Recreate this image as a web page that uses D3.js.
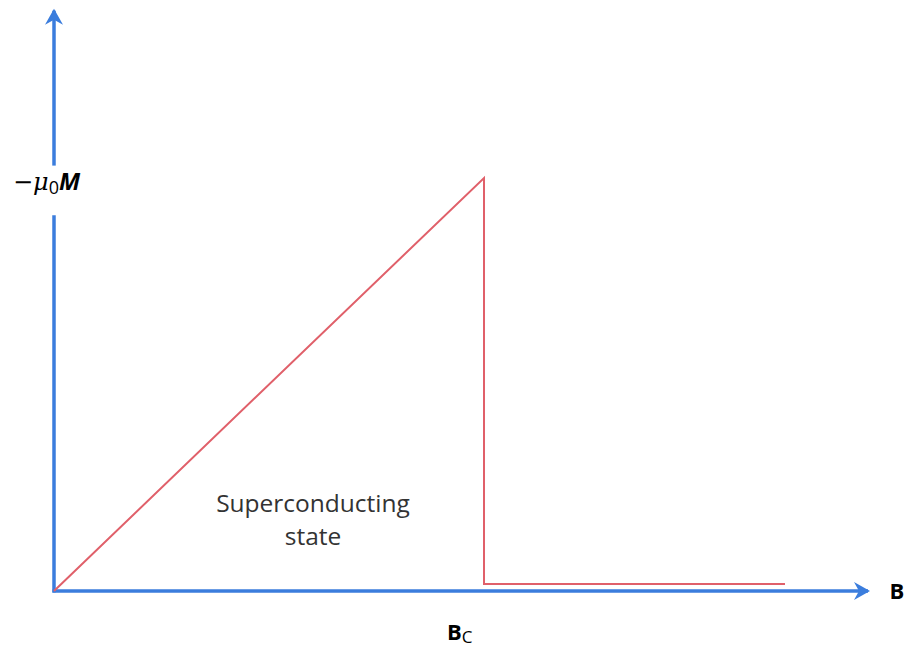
<!DOCTYPE html>
<html>
<head>
<meta charset="utf-8">
<script src="https://cdn.jsdelivr.net/npm/d3@7"></script>
<style>
  body { margin: 0; background: #fff; }
  text { font-family: "Open Sans", "Noto Sans", sans-serif; }
</style>
</head>
<body>
<div id="chart"></div>
<script>
// field in units of Bc, magnetisation scaled so the peak is 1
const bValues = [0, 1, 1, 1.7];
const mValues = [0, 1, 0.017, 0.017];
const xTickValues = [1];
const xTickLabels = ["B", "C"];
const xAxisMax = 1.893;
const yAxisMax = 1.41;

const width = 907, height = 650;
const axisColor = "#3b7ddd";
const curveColor = "#e0606a";

const svg = d3.select("#chart").append("svg")
  .attr("width", width)
  .attr("height", height);

const x = d3.scaleLinear().domain([0, 1]).range([54, 484]);
const y = d3.scaleLinear().domain([0, 1]).range([591, 178]);

// arrowheads
const defs = svg.append("defs");
defs.append("marker")
  .attr("id", "arrow")
  .attr("viewBox", "0 0 20 20")
  .attr("refX", 16)
  .attr("refY", 10)
  .attr("markerWidth", 20)
  .attr("markerHeight", 20)
  .attr("markerUnits", "userSpaceOnUse")
  .attr("orient", "auto")
  .append("path")
  .attr("d", "M2,1 L18,10 L2,19 L7,10 Z")
  .attr("fill", axisColor);

// y axis, with a gap for its label
const yLabelGap = [1.03, 0.91];
svg.append("line")
  .attr("x1", x(0)).attr("y1", y(yLabelGap[1]))
  .attr("x2", x(0)).attr("y2", y(0) + 1.5)
  .attr("stroke", axisColor).attr("stroke-width", 3.5);
svg.append("line")
  .attr("x1", x(0)).attr("y1", y(yLabelGap[0]))
  .attr("x2", x(0)).attr("y2", y(yAxisMax) + 2)
  .attr("stroke", axisColor).attr("stroke-width", 3.5)
  .attr("marker-end", "url(#arrow)");

// x axis
svg.append("line")
  .attr("x1", x(0) - 1.5).attr("y1", y(0))
  .attr("x2", x(xAxisMax)).attr("y2", y(0))
  .attr("stroke", axisColor).attr("stroke-width", 3.5)
  .attr("marker-end", "url(#arrow)");

// magnetisation curve
const line = d3.line()
  .x((d, i) => x(bValues[i]))
  .y((d, i) => y(mValues[i]));

svg.append("path")
  .datum(bValues)
  .attr("d", line)
  .attr("fill", "none")
  .attr("stroke", curveColor)
  .attr("stroke-width", 2)
  .attr("stroke-linejoin", "miter");

// labels
svg.append("text")
  .attr("x", 897).attr("y", y(0) + 8)
  .attr("text-anchor", "middle")
  .style("font-size", "22px").style("font-weight", "bold")
  .text("B");

const tick = svg.append("text")
  .attr("x", x(xTickValues[0]) - 37).attr("y", 640)
  .style("font-size", "22px").style("font-weight", "bold");
tick.append("tspan").text(xTickLabels[0]);
tick.append("tspan").attr("dy", 3).style("font-size", "17px").style("font-weight", "normal").text(xTickLabels[1]);

const yl = svg.append("text")
  .attr("x", 13).attr("y", 190)
  .style("font-size", "24px");
yl.append("tspan").style("font-family", "DejaVu Serif").style("font-style", "italic").text("−μ");
yl.append("tspan").attr("dy", 4).style("font-size", "18px").text("0");
yl.append("tspan").attr("dy", -4).style("font-weight", "bold").style("font-style", "italic").text("M");

svg.append("text")
  .attr("x", 313).attr("y", 512)
  .attr("text-anchor", "middle")
  .style("font-size", "24.5px").style("fill", "#333")
  .text("Superconducting");
svg.append("text")
  .attr("x", 313).attr("y", 545)
  .attr("text-anchor", "middle")
  .style("font-size", "24.5px").style("fill", "#333")
  .text("state");
</script>
</body>
</html>
